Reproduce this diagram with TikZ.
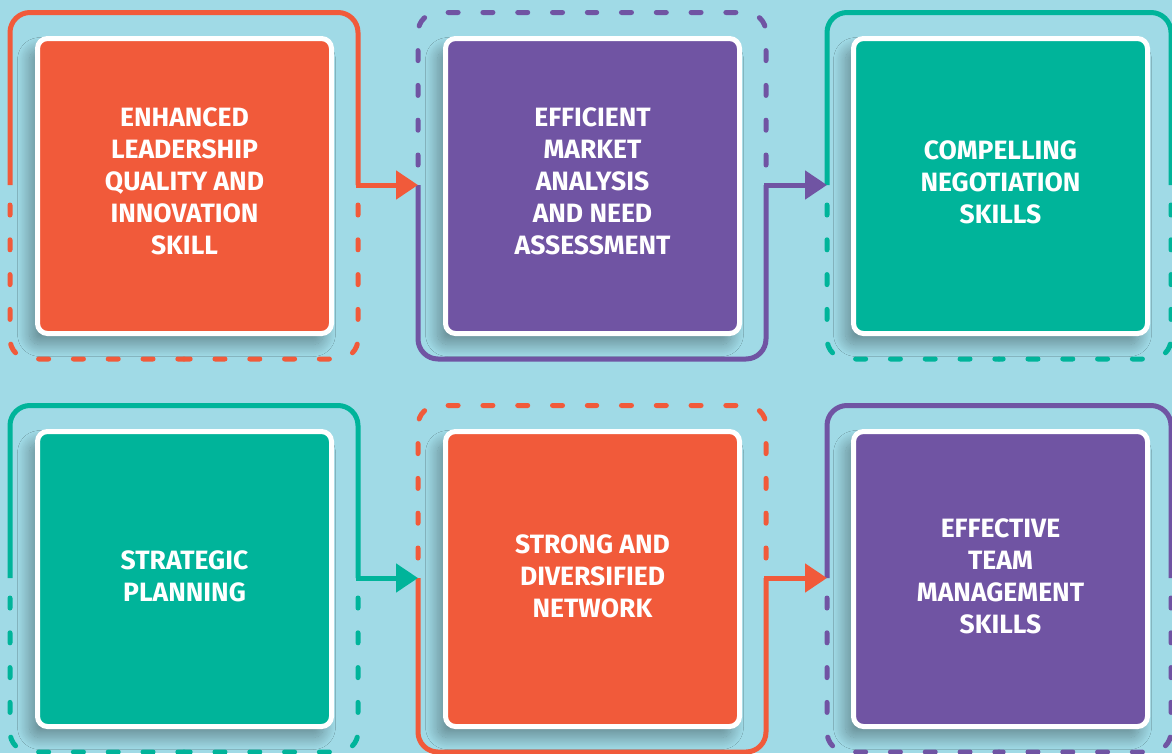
\documentclass[tikz,border=0pt]{standalone}
\usepackage{fontspec}
\setmainfont{Fira Sans}
\usetikzlibrary{arrows.meta,shadows.blur}
\definecolor{bgc}{HTML}{A0DAE6}
\definecolor{cor}{HTML}{F15A3A}
\definecolor{cpu}{HTML}{7054A3}
\definecolor{cte}{HTML}{00B49A}
\tikzset{
  card/.style={draw=white, line width=5pt, rounded corners=10pt,
    minimum width=294pt, minimum height=295pt, inner sep=0pt,
    blur shadow={shadow xshift=-8pt, shadow yshift=-11pt, shadow blur radius=12pt, shadow blur steps=24, shadow opacity=35}},
  lbl/.style={text=white, align=center, inner sep=0pt, font=\fontsize{26.5}{32}\selectfont\bfseries},
  solidline/.style={line width=5pt, rounded corners=20pt},
  dashline/.style={line width=5pt, rounded corners=20pt, line cap=round,
    dash pattern=on 10pt off 24.8pt, dash phase=14.8pt},
  flow/.style={line width=5pt, line cap=rect, -{Triangle[length=22pt,width=28pt]}},
}
\begin{document}
\begin{tikzpicture}[x=1pt,y=-1pt]
\useasboundingbox (0,0) rectangle (1172,753);
\clip (0,0) rectangle (1172,753);
\fill[bgc] (0,0) rectangle (1172,753);

% cards
\node[card, fill=cor] (b1) at (184.5,186) {};
\node[card, fill=cpu] (b2) at (592.5,186) {};
\node[card, fill=cte] (b3) at (1000.5,186) {};
\node[card, fill=cte] (b4) at (184.5,579) {};
\node[card, fill=cor] (b5) at (592.5,579) {};
\node[card, fill=cpu] (b6) at (1000.5,579) {};

\node[lbl] (t1) at ([yshift=5pt]b1.center) {ENHANCED\\LEADERSHIP\\QUALITY AND\\INNOVATION\\SKILL};
\node[lbl] (t2) at ([yshift=5pt]b2.center) {EFFICIENT\\MARKET\\ANALYSIS\\AND NEED\\ASSESSMENT};
\node[lbl] (t3) at ([yshift=4pt]b3.center) {COMPELLING\\NEGOTIATION\\SKILLS};
\node[lbl] (t4) at ([yshift=3pt]b4.center) {STRATEGIC\\PLANNING};
\node[lbl] (t5) at ([yshift=3pt]b5.center) {STRONG AND\\DIVERSIFIED\\NETWORK};
\node[lbl] (t6) at ([yshift=3pt]b6.center) {EFFECTIVE\\TEAM\\MANAGEMENT\\SKILLS};

% frame anchor points (left / right at arrow height)
\coordinate (l1) at (10,185);   \coordinate (r1) at (358,185);
\coordinate (l2) at (418,185);  \coordinate (r2) at (766,185);
\coordinate (l3) at (827,185);  \coordinate (r3) at (1171,185);
\coordinate (l4) at (10,578);   \coordinate (r4) at (358,578);
\coordinate (l5) at (418,578);  \coordinate (r5) at (766,578);
\coordinate (l6) at (827,578);  \coordinate (r6) at (1171,578);

% top row frames
\draw[solidline, cor] (l1) |- (358,12.5) -- (r1);
\draw[dashline, cor] (l1) |- (184,359);
\draw[dashline, cor] (r1) |- (184,359);

\draw[solidline, cpu] (l2) |- (766,359) -- (r2);
\draw[dashline, cpu] (l2) |- (592,12.5);
\draw[dashline, cpu] (r2) |- (592,12.5);

\draw[solidline, cte] (l3) |- (1171,12.5) -- (r3);
\draw[dashline, cte] (l3) |- (999,359);
\draw[dashline, cte] (r3) |- (999,359);

% bottom row frames
\draw[solidline, cte] (l4) |- (358,405.5) -- (r4);
\draw[dashline, cte] (l4) |- (184,752);
\draw[dashline, cte] (r4) |- (184,752);

\draw[solidline, cor] (l5) |- (766,752) -- (r5);
\draw[dashline, cor] (l5) |- (592,405.5);
\draw[dashline, cor] (r5) |- (592,405.5);

\draw[solidline, cpu] (l6) |- (1171,405.5) -- (r6);
\draw[dashline, cpu] (l6) |- (999,752);
\draw[dashline, cpu] (r6) |- (999,752);

% connectors
\draw[flow, cor] (r1) -- (l2);
\draw[flow, cpu] (r2) -- (l3);
\draw[flow, cte] (r4) -- (l5);
\draw[flow, cor] (r5) -- (l6);
\end{tikzpicture}
\end{document}
